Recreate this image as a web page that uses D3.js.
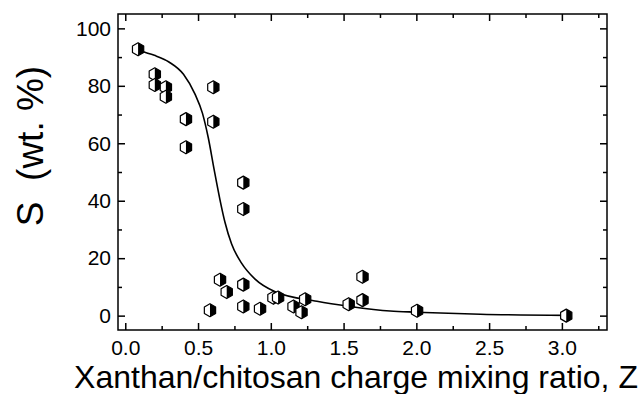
<!DOCTYPE html>
<html>
<head>
<meta charset="utf-8">
<script src="https://cdn.jsdelivr.net/npm/d3@7"></script>
<style>
  body { margin: 0; background: #fff; }
  svg { display: block; font-family: "Liberation Sans", Arial, sans-serif; }
</style>
</head>
<body>
<svg id="chart" width="640" height="394"></svg>
<script>
// measured points: charge mixing ratio Z vs S (wt. %)
const zRatio = [0.088, 0.203, 0.203, 0.279, 0.279, 0.417, 0.417, 0.605, 0.605,
  0.811, 0.811, 0.651, 0.697, 0.582, 0.811, 0.811, 0.926, 1.018, 1.05, 1.156,
  1.236, 1.211, 1.535, 1.63, 1.63, 2.005, 3.03];
const sValue = [92.7, 84.0, 80.3, 79.5, 76.2, 68.4, 58.6, 79.5, 67.5,
  46.3, 37.1, 12.5, 8.2, 1.9, 10.8, 3.2, 2.4, 6.2, 6.3, 3.2,
  5.7, 1.2, 4.0, 13.5, 5.4, 1.7, 0.0];

// fitted curve
const fitZ = [0.09, 0.2, 0.3, 0.4, 0.48, 0.53, 0.57, 0.61, 0.65, 0.685, 0.73,
  0.8, 0.89, 1.03, 1.317, 1.546, 1.82, 2.0, 2.44, 3.03];
const fitS = [92.3, 90.6, 88.3, 84.0, 77.0, 70.5, 62.0, 51.0, 40.5, 32.5, 25.0,
  18.2, 12.8, 8.3, 5.0, 3.2, 1.6, 1.2, 0.5, 0.1];

const xMajor = [0, 0.5, 1, 1.5, 2, 2.5, 3];
const xMinor = [0.25, 0.75, 1.25, 1.75, 2.25, 2.75, 3.25];
const yMajor = [0, 20, 40, 60, 80, 100];
const yMinor = [10, 30, 50, 70, 90];

const margin = {left: 118, right: 33, top: 14, bottom: 64};
const W = 640, H = 394;

const svg = d3.select('#chart');
const x = d3.scaleLinear().domain([-0.05, 3.31]).range([margin.left, W - margin.right]);
const y = d3.scaleLinear().domain([-5, 105]).range([H - margin.bottom, margin.top]);

const fmtX = d3.format('.1f');

// axes with inward ticks, on all four sides
function drawAxis(axisFn, scale, pos, vals, size, labels) {
  const ax = axisFn(scale).tickValues(vals).tickSizeInner(-size).tickSizeOuter(0);
  if (labels) {
    ax.tickFormat(labels).tickPadding(axisFn === d3.axisBottom ? 10 : 7);
  } else {
    ax.tickFormat('');
  }
  const g = svg.append('g').attr('transform', pos).call(ax);
  g.select('.domain').remove();
  g.selectAll('line').attr('stroke', '#000').attr('stroke-width', 1.5);
  g.selectAll('text').attr('font-size', 21).attr('fill', '#000')
    .attr('font-family', '"Liberation Sans", Arial, sans-serif');
  return g;
}

const bottomY = `translate(0,${y.range()[0]})`;
const topY = `translate(0,${y.range()[1]})`;
const leftX = `translate(${x.range()[0]},0)`;
const rightX = `translate(${x.range()[1]},0)`;

drawAxis(d3.axisBottom, x, bottomY, xMajor, 7, fmtX);
drawAxis(d3.axisBottom, x, bottomY, xMinor, 4, null);
drawAxis(d3.axisTop, x, topY, xMajor, 7, null);
drawAxis(d3.axisTop, x, topY, xMinor, 4, null);
drawAxis(d3.axisLeft, y, leftX, yMajor, 7, d3.format('d'));
drawAxis(d3.axisLeft, y, leftX, yMinor, 4, null);
drawAxis(d3.axisRight, y, rightX, yMajor, 7, null);
drawAxis(d3.axisRight, y, rightX, yMinor, 4, null);

svg.append('rect')
  .attr('x', x.range()[0]).attr('y', y.range()[1])
  .attr('width', x.range()[1] - x.range()[0])
  .attr('height', y.range()[0] - y.range()[1])
  .attr('fill', 'none').attr('stroke', '#000').attr('stroke-width', 1.5);

// fit line
const fitPts = fitZ.map((z, i) => [z, fitS[i]]);
svg.append('path')
  .datum(fitPts)
  .attr('fill', 'none').attr('stroke', '#000').attr('stroke-width', 1.6)
  .attr('d', d3.line().x(d => x(d[0])).y(d => y(d[1])).curve(d3.curveMonotoneX));

// half-filled hexagon markers
const r = 6.5, c = r * Math.cos(Math.PI / 6);
const hexFull = `M0,${-r}L${c},${-r / 2}L${c},${r / 2}L0,${r}L${-c},${r / 2}L${-c},${-r / 2}Z`;
const hexRight = `M0,${-r}L${c},${-r / 2}L${c},${r / 2}L0,${r}Z`;

const pts = svg.append('g').selectAll('g.pt')
  .data(zRatio.map((z, i) => [z, sValue[i]]))
  .join('g').attr('class', 'pt')
  .attr('transform', d => `translate(${x(d[0])},${y(d[1])})`);
pts.append('path').attr('d', hexFull).attr('fill', '#fff');
pts.append('path').attr('d', hexRight).attr('fill', '#000');
pts.append('path').attr('d', hexFull).attr('fill', 'none')
  .attr('stroke', '#000').attr('stroke-width', 1.2).attr('stroke-linejoin', 'round');

// axis titles
svg.append('text')
  .attr('x', 356).attr('y', 388)
  .attr('text-anchor', 'middle').attr('font-size', 32)
  .text('Xanthan/chitosan charge mixing ratio, Z');

svg.append('text')
  .attr('transform', 'translate(43,146) rotate(-90)')
  .attr('text-anchor', 'middle').attr('font-size', 37)
  .attr('xml:space', 'preserve')
  .style('white-space', 'pre')
  .text('S  (wt. %)');
</script>
</body>
</html>
